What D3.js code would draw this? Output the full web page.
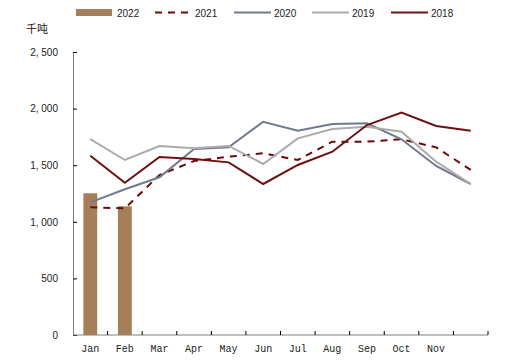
<!DOCTYPE html>
<html>
<head>
<meta charset="utf-8">
<script src="https://cdn.jsdelivr.net/npm/d3@7"></script>
<style>
  body { margin: 0; background: #fff; }
  svg { display: block; }
</style>
</head>
<body>
<svg width="524" height="361"></svg>
<script>
// data (thousand tonnes)
const months = ["Jan", "Feb", "Mar", "Apr", "May", "Jun", "Jul", "Aug", "Sep", "Oct", "Nov", "Dec"];
const monthLabels = ["Jan", "Feb", "Mar", "Apr", "May", "Jun", "Jul", "Aug", "Sep", "Oct", "Nov", ""];
const yTicks = [0, 500, 1000, 1500, 2000, 2500];

const v2022 = [1252, 1137];
const v2021 = [1128, 1119, 1413, 1537, 1575, 1605, 1546, 1708, 1708, 1729, 1658, 1458];
const v2020 = [1172, 1287, 1393, 1643, 1658, 1884, 1805, 1864, 1870, 1729, 1493, 1334];
const v2019 = [1731, 1546, 1670, 1649, 1670, 1511, 1737, 1820, 1840, 1796, 1531, 1334];
const v2018 = [1584, 1345, 1572, 1555, 1525, 1334, 1502, 1619, 1855, 1964, 1846, 1805];

const lines = [
    { name: "2021", vals: v2021, color: "#6b0a0a", dash: "7,6" },
    { name: "2020", vals: v2020, color: "#6f7a8c", dash: null },
    { name: "2019", vals: v2019, color: "#ababab", dash: null },
    { name: "2018", vals: v2018, color: "#6e0f12", dash: null }
];
const barColor = "#a67f5a";

const svg = d3.select("svg");
const mLeft = 73, mRight = 488, mTop = 52, mBottom = 335;

const x = d3.scaleBand().domain(months).range([mLeft, mRight]);
const y = d3.scaleLinear().domain([0, 2500]).range([mBottom, mTop]);

const fmt = (d) => d3.format(",")(d).replace(",", ", ");

// y axis
const yAxis = svg.append("g")
    .attr("transform", `translate(${mLeft},0)`)
    .call(d3.axisLeft(y).tickValues(yTicks).tickSizeInner(-4).tickSizeOuter(0).tickFormat(fmt).tickPadding(15));
yAxis.select(".domain").attr("stroke", "#808080");
yAxis.selectAll(".tick line").attr("stroke", "#000");
yAxis.selectAll("text")
    .attr("font-family", "Liberation Sans, Arial, sans-serif")
    .attr("font-size", 10)
    .attr("fill", "#222");

// x axis, ticks sit on band edges
const xg = svg.append("g").attr("transform", `translate(0,${mBottom})`);
xg.append("line")
    .attr("x1", mLeft).attr("x2", mRight)
    .attr("stroke", "#808080");
const edges = months.map((m) => x(m)).concat([mRight]);
xg.selectAll(".edge")
    .data(edges.slice(1))
    .join("line")
    .attr("x1", (d) => d).attr("x2", (d) => d)
    .attr("y1", 0).attr("y2", -4)
    .attr("stroke", "#000");
xg.selectAll("text")
    .data(months)
    .join("text")
    .attr("x", (d) => x(d) + x.bandwidth() / 2)
    .attr("y", 17)
    .attr("text-anchor", "middle")
    .attr("font-family", "Liberation Mono, DejaVu Sans Mono, monospace")
    .attr("font-size", 10)
    .attr("fill", "#222")
    .text((d, i) => monthLabels[i]);

// bars 2022
svg.selectAll(".bar")
    .data(v2022)
    .join("rect")
    .attr("x", (d, i) => x(months[i]) + x.bandwidth() * 0.3)
    .attr("width", x.bandwidth() * 0.4)
    .attr("y", (d) => y(d))
    .attr("height", (d) => mBottom - y(d))
    .attr("fill", barColor);

// lines
const line = d3.line()
    .x((d, i) => x(months[i]) + x.bandwidth() / 2)
    .y((d) => y(d));

lines.forEach((s) => {
    svg.append("path")
        .datum(s.vals)
        .attr("d", line)
        .attr("fill", "none")
        .attr("stroke", s.color)
        .attr("stroke-width", 2)
        .attr("stroke-dasharray", s.dash);
});

// unit
svg.append("text")
    .attr("x", 26).attr("y", 33)
    .attr("font-family", "Noto Sans CJK SC, sans-serif")
    .attr("font-size", 11)
    .attr("fill", "#222")
    .text("千吨");

// legend
const lg = svg.append("g").attr("font-family", "Liberation Sans, Arial, sans-serif").attr("font-size", 10).attr("fill", "#222");
lg.append("rect").attr("x", 76).attr("y", 9).attr("width", 36).attr("height", 7).attr("fill", barColor);
lg.append("text").attr("x", 117).attr("y", 16.5).text("2022");
const legX = [155, 234, 312, 391];
lines.forEach((s, i) => {
    lg.append("line")
        .attr("x1", legX[i]).attr("x2", legX[i] + 37)
        .attr("y1", 12.5).attr("y2", 12.5)
        .attr("stroke", s.color)
        .attr("stroke-width", 2)
        .attr("stroke-dasharray", s.dash ? "7,6" : null);
    lg.append("text").attr("x", legX[i] + 40).attr("y", 16.5).text(s.name);
});
</script>
</body>
</html>
